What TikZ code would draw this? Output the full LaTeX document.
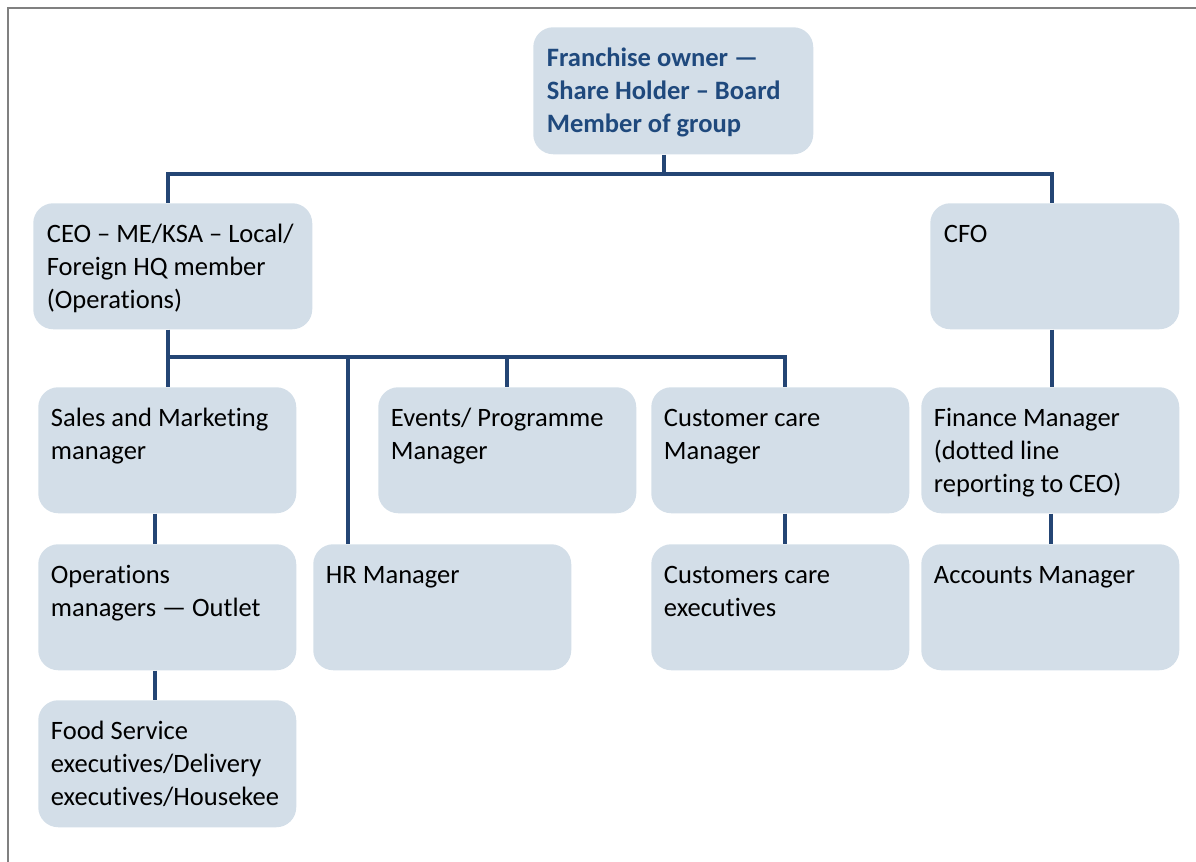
\documentclass[tikz,border=0pt]{standalone}
\usepackage{fontspec}
\setmainfont[Ligatures=NoCommon]{Carlito}
\definecolor{boxfill}{RGB}{211,222,232}
\definecolor{linecol}{RGB}{36,69,116}
\definecolor{titlecol}{RGB}{31,73,125}
\definecolor{framecol}{RGB}{128,128,128}
\begin{document}
\begin{tikzpicture}[x=0.75pt,y=-0.75pt,
  orgbox/.style={rectangle,rounded corners=15pt,fill=boxfill,draw=none,inner sep=0pt,anchor=north west,minimum height=94.5pt},
  wbox/.style={orgbox,minimum width=193.5pt},
  txt/.style={anchor=north west,inner sep=0pt,align=left,font=\fontsize{19.9}{24.75}\selectfont},
  conn/.style={draw=linecol,line width=3pt},
  frame/.style={draw=framecol,line width=1.6pt}]
\useasboundingbox (0,0) rectangle (1196,862);
% frame
\coordinate (fr0) at (8,862);
\coordinate (fr1) at (8,8);
\coordinate (fr2) at (1196,8);
\draw[frame] (fr0) -- (fr1) -- (fr2);

% boxes
\node[orgbox,minimum width=210pt,minimum height=95.25pt] (top) at (533,27) {};
\node[orgbox,minimum width=209.25pt] (ceo) at (33,203) {};
\node[orgbox,minimum width=186.75pt] (cfo) at (930,203) {};
\node[wbox] (sales) at (38,387) {};
\node[wbox] (events) at (378,387) {};
\node[wbox] (care) at (651,387) {};
\node[wbox] (fin) at (921,387) {};
\node[wbox] (ops) at (38,544) {};
\node[wbox] (hr) at (313,544) {};
\node[wbox] (carex) at (651,544) {};
\node[wbox] (acc) at (921,544) {};
\node[wbox,minimum height=95.25pt] (food) at (38,700) {};

% texts
\node[txt,font=\fontsize{19.9}{24.75}\selectfont\bfseries,text=titlecol] (topT) at ([shift={(10.2pt,-11.9pt)}]top.north west) {\strut Franchise owner —\\Share Holder – Board\\Member of group};
\node[txt] (ceoT) at ([shift={(10.2pt,-11.9pt)}]ceo.north west) {\strut CEO – ME/KSA – Local/\\Foreign HQ member\\(Operations)};
\node[txt] (cfoT) at ([shift={(10.2pt,-11.9pt)}]cfo.north west) {\strut CFO};
\node[txt] (salesT) at ([shift={(9.5pt,-11.9pt)}]sales.north west) {\strut Sales and Marketing\\manager};
\node[txt] (eventsT) at ([shift={(9.5pt,-11.9pt)}]events.north west) {\strut Events/ Programme\\Manager};
\node[txt] (careT) at ([shift={(9.5pt,-11.9pt)}]care.north west) {\strut Customer care\\Manager};
\node[txt] (finT) at ([shift={(9.5pt,-11.9pt)}]fin.north west) {\strut Finance Manager\\(dotted line\\reporting to CEO)};
\node[txt] (opsT) at ([shift={(9.5pt,-11.9pt)}]ops.north west) {\strut Operations\\managers — Outlet};
\node[txt] (hrT) at ([shift={(9.5pt,-11.9pt)}]hr.north west) {\strut HR Manager};
\node[txt] (carexT) at ([shift={(9.5pt,-11.9pt)}]carex.north west) {\strut Customers care\\executives};
\node[txt] (accT) at ([shift={(9.5pt,-11.9pt)}]acc.north west) {\strut Accounts Manager};
\node[txt] (foodT) at ([shift={(9.5pt,-11.9pt)}]food.north west) {\strut Food Service\\executives/Delivery\\executives/Housekee};

% connector x-positions and buses
\coordinate (bus1) at (664,174);
\coordinate (bus2) at (168,357);
\coordinate (xceo) at (168,0);
\coordinate (xcfo) at (1052,0);
\coordinate (xhr) at (348,0);
\coordinate (xev) at (507,0);
\coordinate (xcare) at (785,0);
\coordinate (xsales) at (155,0);
\coordinate (xfin) at (1051,0);

% level 1
\draw[conn] (top.south -| bus1) -- (bus1);
\draw[conn] (xceo |- ceo.north) -- (xceo |- bus1) -- (xcfo |- bus1) -- (xcfo |- cfo.north);
% CEO bus
\draw[conn] (xceo |- ceo.south) -- (xceo |- sales.north);
\draw[conn] (bus2) -- (xcare |- bus2) -- (xcare |- care.north);
\draw[conn] (xhr |- bus2) -- (xhr |- hr.north);
\draw[conn] (xev |- bus2) -- (xev |- events.north);
% CFO chain
\draw[conn] (xcfo |- cfo.south) -- (xcfo |- fin.north);
\draw[conn] (xfin |- fin.south) -- (xfin |- acc.north);
% sales chain
\draw[conn] (xsales |- sales.south) -- (xsales |- ops.north);
\draw[conn] (xsales |- ops.south) -- (xsales |- food.north);
% customer care chain
\draw[conn] (xcare |- care.south) -- (xcare |- carex.north);
\end{tikzpicture}
\end{document}
